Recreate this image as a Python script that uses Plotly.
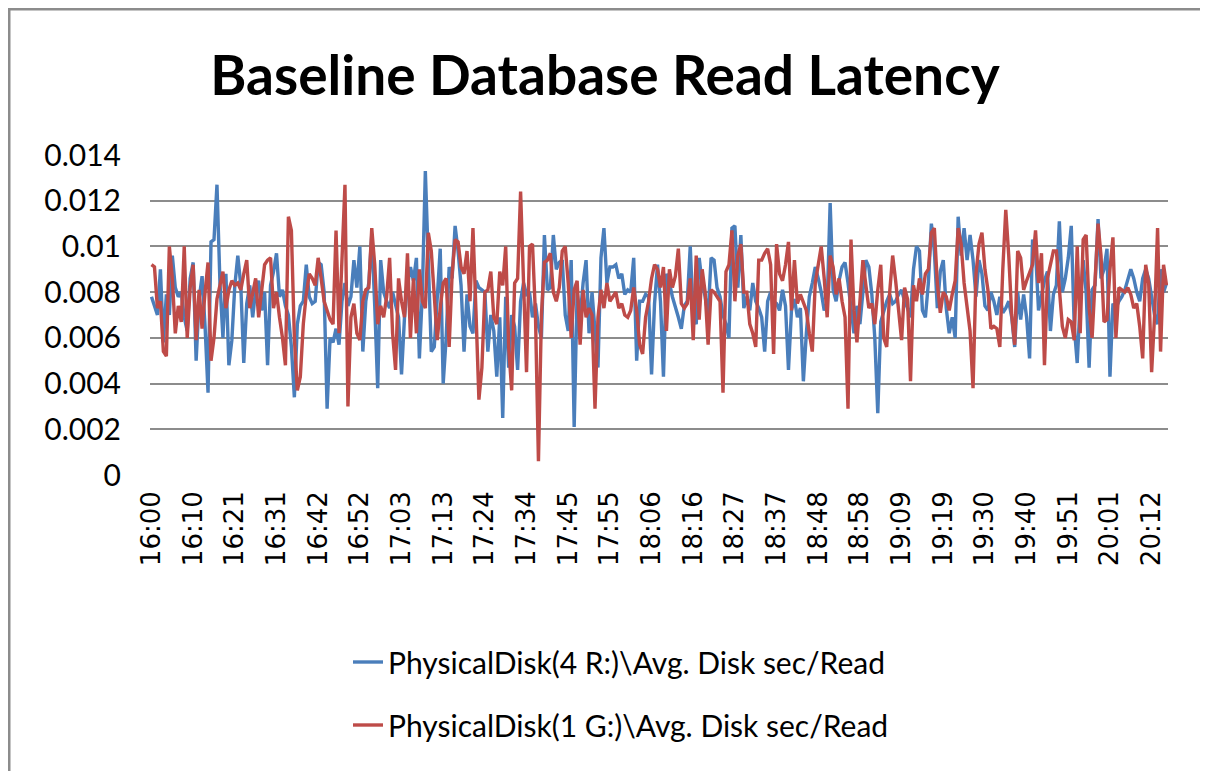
import plotly.graph_objects as go

# ---- data (in milliseconds) ----
tick_labels = ["16:00", "16:10", "16:21", "16:31", "16:42", "16:52", "17:03", "17:13",
               "17:24", "17:34", "17:45", "17:55", "18:06", "18:16", "18:27", "18:37",
               "18:48", "18:58", "19:09", "19:19", "19:30", "19:40", "19:51", "20:01", "20:12"]
samples_per_label = 14  # one sample every 45 s, a label every 10.5 min

y_tick_values = [0, 0.002, 0.004, 0.006, 0.008, 0.01, 0.012, 0.014]
y_tick_labels = ["0", "0.002", "0.004", "0.006", "0.008", "0.01", "0.012", "0.014"]

series_names = ["PhysicalDisk(4 R:)\\Avg. Disk sec/Read",
                "PhysicalDisk(1 G:)\\Avg. Disk sec/Read"]

disk_r_ms = [
    7.8, 7.4, 7.0, 9.0, 5.8, 7.9, 7.0, 9.6, 8.2, 7.8,
    8.0, 6.9, 6.3, 8.6, 9.3, 5.0, 7.7, 8.7, 6.5, 3.6,
    10.2, 10.3, 12.7, 8.4, 6.0, 8.8, 4.8, 5.9, 8.3, 9.6,
    8.3, 4.9, 7.5, 8.3, 6.9, 8.1, 8.5, 7.2, 8.0, 4.8,
    8.3, 8.9, 9.7, 7.8, 8.1, 7.4, 7.0, 5.6, 3.4, 6.6,
    7.4, 7.6, 9.2, 7.8, 7.5, 7.6,
    9.3, 9.2, 8.0, 2.9, 6.0, 5.8, 6.4, 5.7, 7.6, 8.4,
    7.4, 7.8, 9.4, 8.2, 10.0, 5.4, 7.6, 8.4, 10.5, 7.4,
    3.8, 9.4, 8.0, 7.6, 7.3, 8.0, 7.5, 6.9, 4.4, 6.9,
    8.3, 9.1, 8.5, 9.5, 5.1, 8.0, 13.3, 8.9, 5.4, 5.6,
    8.1, 9.9, 4.0, 6.0, 9.1, 8.6, 10.9, 9.8, 8.3, 5.4,
    7.9, 6.5, 6.2, 8.5, 8.2, 8.1,
    8.0, 5.4, 7.0, 6.3, 4.3, 6.9, 2.5, 7.8, 4.7, 7.0,
    6.5, 4.6, 7.6, 8.4, 7.9, 8.0, 6.9, 7.5, 6.5, 6.0,
    10.5, 8.1, 8.2, 10.5, 9.0, 9.3, 9.4, 7.0, 6.3, 9.4,
    2.1, 8.0, 6.9, 8.4, 9.4, 6.2, 8.0, 6.3, 4.7, 9.5,
    10.8, 8.4, 9.1, 9.1, 9.2, 8.6, 8.8, 7.9, 8.1, 8.0,
    9.5, 5.0, 7.6, 7.6, 7.9, 7.8, 4.4, 7.5,
    9.2, 7.6, 4.3, 8.8, 8.4, 7.8, 7.4, 6.9, 6.4, 7.4,
    7.6, 10.0, 6.9, 6.6, 9.5, 8.4, 7.8, 7.0, 9.5, 9.4,
    8.2, 7.8, 7.0, 6.6, 6.0, 10.8, 10.9, 8.2, 10.5, 7.3,
    7.8, 7.2, 8.4, 7.6, 7.3, 6.9, 5.4, 7.6, 8.0, 7.6,
    7.5, 7.2, 8.1, 7.4, 4.6, 7.2, 7.7, 6.9, 7.3, 4.1,
    6.2, 7.8, 8.4, 9.1, 8.6, 8.0, 7.2,
    7.5, 11.9, 8.1, 7.6, 8.5, 9.1, 9.3, 8.4, 7.3, 6.2,
    7.4, 6.6, 8.0, 9.4, 9.1, 7.9, 6.0, 2.7, 6.7, 7.2,
    7.6, 7.9, 7.5, 7.6, 7.9, 8.1, 7.6, 7.3, 6.9, 9.0,
    10.0, 9.8, 7.2, 6.9, 8.4, 11.0, 9.8, 7.3, 8.9, 9.4,
    7.3, 6.2, 6.9, 6.0, 11.3, 9.6, 10.8, 9.4, 10.5, 9.4,
    7.8, 9.4, 8.8, 7.4, 7.2, 8.0, 7.6,
    7.0, 7.8, 7.1, 7.3, 7.6, 6.9, 5.6, 8.0, 6.8, 7.9,
    6.9, 5.1, 10.3, 9.8, 7.2, 7.9, 8.5, 8.9, 6.3, 7.9,
    8.3, 11.1, 8.0, 8.6, 9.5, 10.9, 6.5, 4.9, 7.6, 9.4,
    8.0, 4.7, 8.1, 8.3, 11.2, 8.6, 9.0, 9.9, 4.3, 7.5,
    7.3, 7.6, 7.8, 8.1, 8.6, 9.0, 8.6, 8.0, 7.6, 8.6,
    9.0, 8.6, 7.8, 7.0, 6.6, 9.0, 8.0, 8.4,
]

disk_g_ms = [
    9.2, 9.1, 7.3, 7.6, 5.4, 5.2, 10.0, 8.6, 6.2, 7.4,
    6.7, 10.0, 6.0, 8.2, 9.2, 5.9, 8.1, 6.4, 8.0, 9.3,
    5.0, 6.0, 7.7, 8.4, 8.9, 7.3, 8.1, 8.5, 8.3, 8.4,
    8.1, 8.8, 9.4, 7.3, 8.0, 8.6, 6.9, 8.2, 9.2, 9.4,
    9.5, 7.3, 8.0, 6.9, 6.0, 4.8, 11.3, 10.7, 6.0, 3.7,
    4.3, 6.6, 7.9, 8.8, 8.6, 8.3,
    9.5, 8.6, 7.6, 7.2, 6.8, 6.6, 10.7, 6.2, 9.1, 12.7,
    3.0, 6.9, 7.5, 6.2, 5.9, 7.6, 8.1, 8.2, 10.8, 9.2,
    6.6, 7.4, 6.9, 7.8, 9.5, 6.2, 4.6, 8.6, 7.6, 6.9,
    9.7, 6.0, 8.6, 6.2, 9.0, 7.6, 7.3, 10.6, 9.8, 7.9,
    5.9, 7.3, 8.4, 8.6, 5.6, 8.8, 10.3, 10.2, 9.1, 8.8,
    9.8, 7.6, 10.8, 7.2, 3.3, 4.7,
    8.0, 8.1, 8.9, 6.9, 6.6, 8.9, 8.3, 10.0, 5.6, 3.7,
    8.4, 8.6, 12.4, 8.4, 4.5, 10.0, 10.1, 7.0, 0.6, 7.0,
    9.3, 9.4, 9.7, 8.0, 7.6, 8.2, 9.8, 10.0, 8.4, 6.0,
    8.1, 8.5, 5.7, 8.1, 6.9, 7.3, 7.0, 2.9, 6.9, 8.1,
    7.3, 8.4, 7.6, 7.8, 8.0, 7.3, 7.5, 7.0, 6.9, 7.2,
    8.2, 7.2, 5.7, 5.3, 6.9, 7.6, 8.6, 9.2,
    9.0, 8.2, 9.1, 6.3, 9.0, 8.2, 8.7, 9.9, 7.5, 7.3,
    7.5, 8.6, 5.9, 9.6, 6.8, 9.0, 8.0, 5.7, 8.1, 8.0,
    7.8, 7.6, 3.6, 8.9, 9.2, 10.7, 7.6, 9.6, 10.1, 8.0,
    8.0, 6.6, 6.2, 5.6, 9.4, 9.4, 9.7, 9.9, 9.2, 5.3,
    10.1, 8.8, 8.5, 9.2, 10.2, 7.2, 9.4, 7.5, 7.9, 7.5,
    7.2, 6.2, 5.4, 8.4, 9.1, 10.0, 8.6,
    6.9, 9.6, 9.1, 7.9, 8.6, 7.6, 6.9, 2.9, 10.3, 7.2,
    5.8, 7.6, 9.4, 8.3, 7.3, 7.5, 6.6, 8.1, 9.2, 6.0,
    5.6, 8.0, 9.6, 8.5, 7.0, 5.9, 8.2, 7.7, 4.1, 8.3,
    7.6, 8.6, 7.9, 8.8, 9.0, 10.6, 10.8, 8.4, 7.1, 8.0,
    7.8, 7.2, 7.9, 8.5, 10.8, 10.1, 8.4, 7.4, 6.3, 3.8,
    8.8, 10.1, 10.6, 9.0, 8.1, 6.4, 6.5,
    6.4, 5.6, 9.0, 11.6, 9.6, 7.0, 5.7, 9.8, 9.5, 8.1,
    8.5, 8.9, 9.2, 10.7, 8.4, 9.7, 4.8, 8.6, 9.3, 9.8,
    9.8, 8.0, 6.5, 6.0, 6.8, 6.7, 5.9, 10.0, 6.2, 10.3,
    10.5, 7.3, 6.0, 8.5, 11.0, 9.6, 6.7, 6.8, 9.0, 10.4,
    6.0, 8.2, 8.1, 8.0, 8.2, 7.9, 7.3, 7.5, 6.5, 5.1,
    9.2, 8.4, 4.5, 7.0, 10.8, 5.4, 9.2, 8.3,
]

series_values_ms = [disk_r_ms, disk_g_ms]
series_colors = ["#4A7EBB", "#BE4B48"]

# ---- figure ----
fig = go.Figure()
for name, vals, color in zip(series_names, series_values_ms, series_colors):
    fig.add_trace(go.Scatter(
        x=list(range(len(vals))),
        y=[v / 1000.0 for v in vals],
        mode="lines",
        name=name,
        legendgroup=name,
        line=dict(color=color, width=3.4),
    ))

n_points = max(len(v) for v in series_values_ms)
tick_positions = [k * samples_per_label for k in range(len(tick_labels))]

# The page body has an 8 px margin, so the figure is drawn 8 px smaller and
# all reference pixel positions are shifted by that amount.
OFF = 8
W, H = 1208 - OFF, 771 - OFF
L, R, T, B = 150 - OFF, 1208 - 1168, 155 - OFF, 771 - 475
pw, ph = W - L - R, H - T - B


def px_to_paper_x(px):
    return (px - OFF - L) / pw


def px_to_paper_y(py):
    return (H - B - (py - OFF)) / ph


fig.update_layout(
    width=W, height=H,
    margin=dict(l=L, r=R, t=T, b=B, pad=0),
    paper_bgcolor="white",
    plot_bgcolor="white",
    title=dict(
        text="<b>Baseline Database Read Latency</b>",
        x=(605 - OFF) / W, xanchor="center",
        y=1 - (76 - OFF) / H, yanchor="middle",
        font=dict(family="Lato", size=55, color="black"),
    ),
    xaxis=dict(
        range=[-0.5, n_points - 0.5],
        tickmode="array",
        tickvals=tick_positions,
        ticktext=tick_labels,
        tickangle=-90,
        showgrid=False,
        zeroline=False,
        showline=False,
        ticks="",
        ticklabelstandoff=10,
        tickfont=dict(family="DejaVu Sans", size=26, color="black"),
    ),
    yaxis=dict(
        range=[0, 0.014],
        tickmode="array",
        tickvals=y_tick_values,
        ticktext=y_tick_labels,
        showgrid=True,
        gridcolor="#8C8C8C",
        gridwidth=1.6,
        zeroline=False,
        showline=False,
        ticks="",
        ticklabelstandoff=28,
        tickfont=dict(family="Lato", size=30, color="black"),
    ),
    legend=dict(
        orientation="v",
        x=px_to_paper_x(348), xanchor="left",
        y=px_to_paper_y(636), yanchor="top",
        font=dict(family="Lato", size=30, color="black"),
        tracegroupgap=21,
        bgcolor="rgba(0,0,0,0)",
    ),
    showlegend=True,
    shapes=[dict(
        type="rect", xref="paper", yref="paper",
        x0=px_to_paper_x(9), x1=px_to_paper_x(1202),
        y0=px_to_paper_y(790), y1=px_to_paper_y(9),
        line=dict(color="#8C8C8C", width=3),
        fillcolor="rgba(0,0,0,0)",
        layer="below",
    )],
)

fig.write_html("out.html")
